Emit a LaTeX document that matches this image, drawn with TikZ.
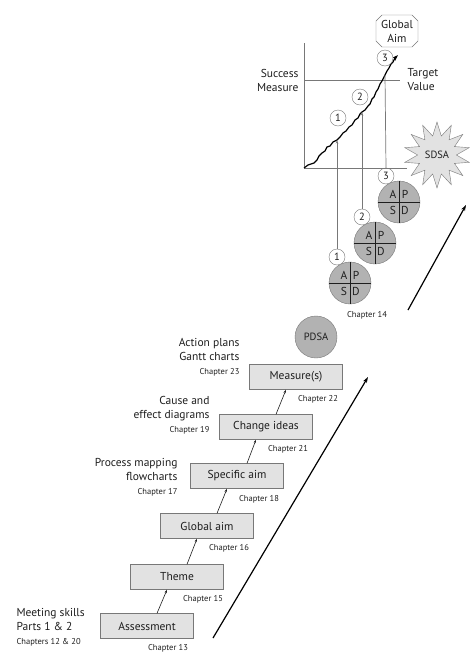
\documentclass[tikz,border=0pt]{standalone}
\usepackage{fontspec}
\setmainfont{PT Sans}
\usepackage{tikz}
\usetikzlibrary{
	arrows.meta,
	shapes.geometric,
	shapes.misc,
	positioning
}
\definecolor{BoxGray}{RGB}{226,226,226}
\definecolor{DiscGray}{RGB}{178,178,178}
\definecolor{LineGray}{RGB}{120,120,120}
\definecolor{InkGray}{RGB}{30,30,30}

\tikzset{
	stepbox/.style={draw=LineGray, fill=BoxGray, minimum width=93pt, minimum height=25pt, font=\fontsize{11.5}{13}\selectfont, text=InkGray},
	chap/.style={font=\fontsize{8.5}{10}\selectfont, text=InkGray},
	lbl/.style={font=\fontsize{11.5}{14}\selectfont, text=InkGray},
	disc/.style={circle, draw=LineGray, fill=DiscGray, minimum size=42pt, inner sep=0pt},
	numc/.style={circle, draw=LineGray, fill=white, minimum size=16pt, inner sep=0pt, font=\fontsize{10.5}{10}\selectfont, text=InkGray},
	uparrow/.style={-{Stealth[length=3.5pt,width=2.5pt]}, InkGray, line width=0.6pt}
}

\begin{document}
\begin{tikzpicture}[x=1pt, y=-1pt]
			\useasboundingbox (0,0) rectangle (470,656);
			% the staircase of steps
			\node[stepbox] (assess) at (147,626) {Assessment};
			\node[stepbox] (theme) at (177,577) {Theme};
			\node[stepbox] (gaim) at (207,526) {Global aim};
			\node[stepbox] (saim) at (237,476) {Specific aim};
			\node[stepbox] (ideas) at (266,427) {Change ideas};
			\node[stepbox] (meas) at (296,377) {Measure(s)};
			\draw[uparrow] ([xshift=10]assess.north) -- ([xshift=-10]theme.south);
			\draw[uparrow] ([xshift=10]theme.north) -- ([xshift=-10]gaim.south);
			\draw[uparrow] ([xshift=10]gaim.north) -- ([xshift=-10]saim.south);
			\draw[uparrow] ([xshift=10]saim.north) -- ([xshift=-10]ideas.south);
			\draw[uparrow] ([xshift=10]ideas.north) -- ([xshift=-10]meas.south);
			\node[chap] (ch13) at (168,648) {Chapter 13};
			\node[chap] (ch15) at (203,599) {Chapter 15};
			\node[chap] (ch16) at (229,548) {Chapter 16};
			\node[chap] (ch18) at (259,499) {Chapter 18};
			\node[chap] (ch21) at (288,449) {Chapter 21};
			\node[chap] (ch22) at (318,399) {Chapter 22};
			% tools on the left
			\node[lbl, align=left, anchor=west] (meet) at (13,627) {Meeting skills\\Parts 1 \& 2\\{\fontsize{8.5}{10}\selectfont Chapters 12 \& 20}};
			\node[lbl, align=right, anchor=east] (procmap) at (181,477) {Process mapping\\flowcharts\\{\fontsize{8.5}{10}\selectfont Chapter 17}};
			\node[lbl, align=right, anchor=east] (cause) at (213,415) {Cause and\\effect diagrams\\{\fontsize{8.5}{10}\selectfont Chapter 19}};
			\node[lbl, align=right, anchor=east] (action) at (243,357) {Action plans\\Gantt charts\\{\fontsize{8.5}{10}\selectfont Chapter 23}};
			% PDSA cycles
			\node[disc, font=\fontsize{10.5}{10}\selectfont, text=InkGray] (pdsa) at (316,337) {PDSA};
			\foreach \i/\x/\y in {1/350/283, 2/375/243, 3/399/202} {
				\node[disc] (c\i) at (\x,\y) {};
				\draw[InkGray, line width=0.7pt] (c\i.north) -- (c\i.south);
				\draw[InkGray, line width=0.7pt] (c\i.west) -- (c\i.east);
				\node[lbl, text=InkGray] at ([shift={(-6,-8)}]c\i.center) {A};
				\node[lbl, text=InkGray] at ([shift={(6,-8)}]c\i.center) {P};
				\node[lbl, text=InkGray] at ([shift={(-6,8)}]c\i.center) {S};
				\node[lbl, text=InkGray] at ([shift={(6,8)}]c\i.center) {D};
				\node[numc] (n\i) at ([shift={(-13,-26)}]c\i.center) {\i};
			}
			\node[chap] (ch14) at (367,315) {Chapter 14};
			% run chart
			\coordinate (orig) at (304,168);
			\coordinate (p1) at (337,140);
			\coordinate (p2) at (362,112);
			\coordinate (p3) at (385,75);
			\coordinate (top) at (398,55);
			\draw[LineGray, line width=0.7pt] (304,43) -- (orig) -- (407,168);
			\draw[LineGray, line width=0.7pt] (304,80) -- (400,80);
			\draw[black, line width=1.2pt, -{Stealth[length=6pt,width=4pt]}] (orig) -- (308,165) -- (311,164) -- (314,163) -- (317,160) -- (319,156) -- (322,153) -- (325,151) -- (327,147) -- (330,146) -- (333,142) -- (p1) -- (340,137) -- (343,133) -- (346,131) -- (349,127) -- (352,125) -- (355,120) -- (358,118) -- (360,114) -- (p2) -- (365,110) -- (368,106) -- (370,104) -- (372,99) -- (374,97) -- (376,92) -- (378,89) -- (380,84) -- (382,81) -- (p3) -- (387,71) -- (389,68) -- (391,64) -- (393,62) -- (395,58) -- (top);
			\draw[uparrow, LineGray] (n1.north) -- (p1);
			\draw[uparrow, LineGray] (n2.north) -- (p2);
			\draw[LineGray, line width=0.7pt] (n3.north) -- (p3);
			\node[numc] (m1) at (338,118) {1};
			\node[numc] (m2) at (360,97) {2};
			\node[numc] (m3) at (385,58) {3};
			\node[lbl, align=right, anchor=east] (succ) at (302,80) {Success\\Measure};
			\node[lbl, align=left, anchor=west] (targ) at (404,80) {Target\\Value};
			\node[chamfered rectangle, chamfered rectangle xsep=3pt, chamfered rectangle ysep=3pt, draw=LineGray, fill=white, lbl, align=center, minimum width=42pt, minimum height=32pt, inner sep=1pt] (goal) at (397,31) {Global\\Aim};
			\node[star, star points=14, star point ratio=1.7, minimum size=66pt, inner sep=0pt, draw=LineGray, fill=BoxGray, font=\fontsize{10.5}{10}\selectfont, text=InkGray] (sdsa) at (437,155) {SDSA};
			% long progress arrows
			\coordinate (a1s) at (213,638);
			\coordinate (a1e) at (368,377);
			\coordinate (a2s) at (408,310);
			\coordinate (a2e) at (466,205);
			\draw[black, line width=1.2pt, -{Stealth[length=6pt,width=4pt]}] (a1s) -- (a1e);
			\draw[black, line width=1.2pt, -{Stealth[length=6pt,width=4pt]}] (a2s) -- (a2e);
		\end{tikzpicture}
\end{document}
